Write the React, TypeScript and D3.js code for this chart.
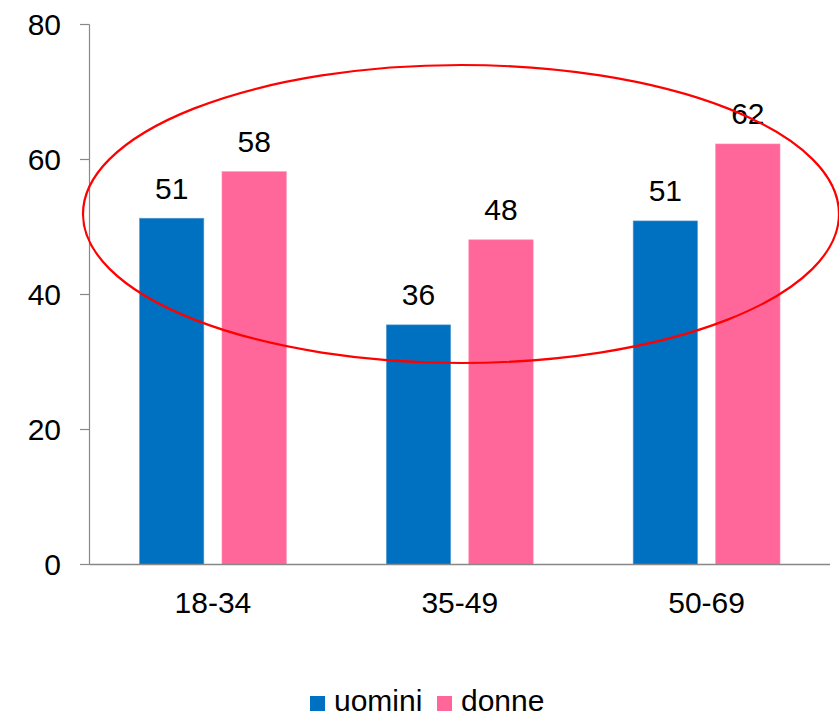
import React from "react";
import * as d3 from "d3";

const categories = ["18-34", "35-49", "50-69"];
const seriesNames = ["uomini", "donne"];
const uomini = [51.3, 35.5, 50.9];
const donne = [58.2, 48.1, 62.3];
const yTicks = [0, 20, 40, 60, 80];
const colors = ["#0070C0", "#FF6699"];

export default function App() {
  const W = 839, H = 718;
  const x0 = 89.5, x1 = 830;
  const yTop = 24.5, yBot = 564.5;
  const font = "'Liberation Sans', Arial, sans-serif";
  const fs = 30;

  const x = d3.scaleBand<string>().domain(categories).range([x0, x1]).paddingInner(0).paddingOuter(0);
  const inner = d3.scaleBand<string>().domain(seriesNames).range([50, x.bandwidth() - 50]).paddingInner(0.22);
  const y = d3.scaleLinear().domain([0, 80]).range([yBot, yTop]);
  const values = [uomini, donne];

  return (
    <svg width={W} height={H} style={{ position: "absolute", left: 0, top: 0, background: "#fff" }}>
      <g fontFamily={font} fontSize={fs} fill="#000">
        {/* y axis */}
        <line x1={x0} x2={x0} y1={yTop} y2={yBot} stroke="#888" strokeWidth={1.2} />
        {yTicks.map((t) => (
          <g key={t}>
            <line x1={80} x2={x0} y1={y(t)} y2={y(t)} stroke="#888" strokeWidth={1.2} />
            <text x={61} y={y(t)} dy="0.36em" textAnchor="end">{t}</text>
          </g>
        ))}
        {/* bars */}
        {categories.map((c, i) => (
          <g key={c}>
            {seriesNames.map((s, j) => {
              const bx = (x(c) as number) + (inner(s) as number);
              const v = values[j][i];
              return (
                <g key={s}>
                  <rect x={bx} y={y(v)} width={inner.bandwidth()} height={yBot - y(v)} fill={colors[j]} stroke={j === 0 ? "#5b9bd5" : "#ff8fb3"} strokeWidth={0.6} />
                  <text x={bx + inner.bandwidth() / 2} y={y(v) - 19.5} textAnchor="middle">{Math.round(v)}</text>
                </g>
              );
            })}
            <text x={(x(c) as number) + x.bandwidth() / 2} y={613} textAnchor="middle">{c}</text>
          </g>
        ))}
        {/* x axis */}
        <line x1={x0} x2={x1} y1={yBot} y2={yBot} stroke="#888" strokeWidth={1.5} />
        {/* annotation ellipse */}
        <ellipse cx={461} cy={214} rx={378} ry={149} fill="none" stroke="#FF0000" strokeWidth={2.2} />
        {/* legend */}
        <rect x={310} y={696} width={15} height={15} fill={colors[0]} />
        <text x={334} y={711}>{seriesNames[0]}</text>
        <rect x={437} y={696} width={15} height={15} fill={colors[1]} />
        <text x={461} y={711}>{seriesNames[1]}</text>
      </g>
    </svg>
  );
}
